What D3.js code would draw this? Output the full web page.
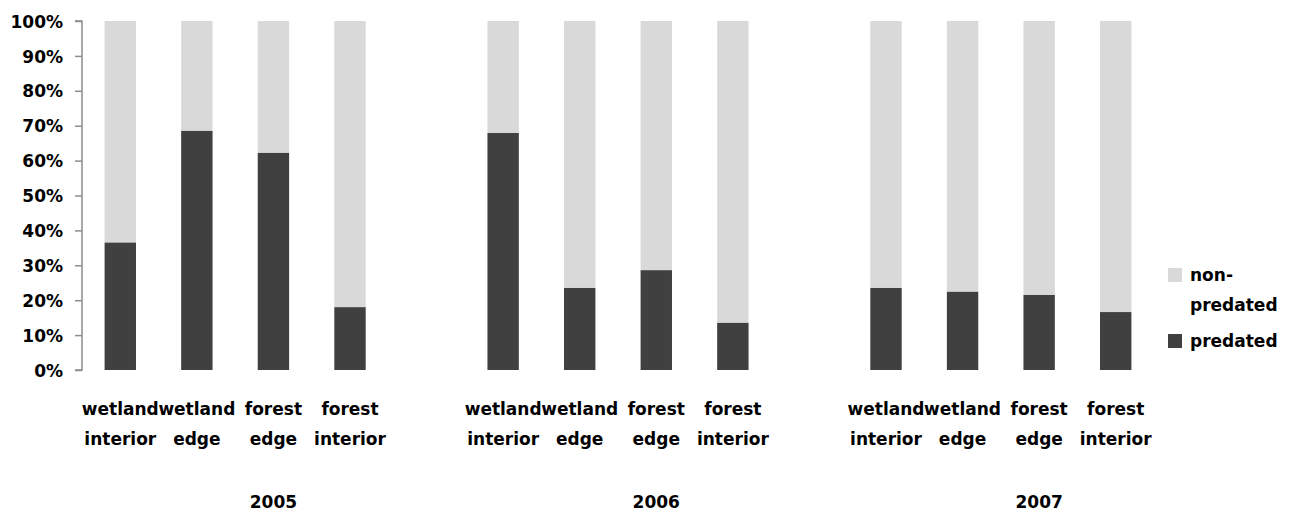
<!DOCTYPE html>
<html><head><meta charset="utf-8">
<script src="https://cdn.jsdelivr.net/npm/d3@7"></script>
<style>body{margin:0;background:#fff}text{font-family:"DejaVu Sans",sans-serif;font-weight:bold;fill:#000}</style>
</head><body>
<svg id="c" width="1295" height="519"></svg>
<script>
const years = ["2005","2006","2007"];
const habitats = [["wetland","interior"],["wetland","edge"],["forest","edge"],["forest","interior"]];
const predated2005 = [36.5, 68.5, 62.2, 18.0];
const predated2006 = [67.9, 23.5, 28.6, 13.5];
const predated2007 = [23.5, 22.4, 21.5, 16.6];
const yTicks = [0,10,20,30,40,50,60,70,80,90,100];
const seriesNames = ["non-predated","predated"];
const colors = {"predated":"#404040","non-predated":"#d9d9d9"};

const predAll = [predated2005, predated2006, predated2007];
// slots: 4 bars per year + blank spacer between years
const slots = [];
years.forEach((yr, gi) => {
  habitats.forEach((h, hi) => slots.push({key: yr+"-"+hi, year: yr, hab: h, pred: predAll[gi][hi]}));
  if (gi < years.length-1) slots.push({key: "gap"+gi, blank: true});
});

const svg = d3.select("#c");
const x = d3.scaleBand().domain(slots.map(d=>d.key)).range([82, 1154]).paddingInner(0.59).paddingOuter(0.295);
const y = d3.scaleLinear().domain([0,100]).range([370, 21]);

const bars = slots.filter(d=>!d.blank);
const g = svg.append("g");
g.selectAll("rect.np").data(bars).join("rect")
  .attr("x", d=>x(d.key)).attr("width", x.bandwidth())
  .attr("y", y(100)).attr("height", d=>y(d.pred)-y(100))
  .attr("fill", colors["non-predated"]);
g.selectAll("rect.p").data(bars).join("rect")
  .attr("x", d=>x(d.key)).attr("width", x.bandwidth())
  .attr("y", d=>y(d.pred)).attr("height", d=>y(0)-y(d.pred))
  .attr("fill", colors["predated"]);

// y axis
const ax = svg.append("g").attr("transform","translate(82,0)")
  .call(d3.axisLeft(y).tickValues(yTicks).tickSize(7).tickPadding(12).tickFormat(d=>d+"%"));
ax.selectAll("path,line").attr("stroke","#8c8c8c").attr("stroke-width",1.5);
ax.select(".domain").attr("d","M-7,"+y(100)+"H0V"+y(0)+"H-7");
ax.selectAll("text").style("font-size","17px").style("font-family","DejaVu Sans").style("font-weight","bold").attr("fill","#000").attr("dy","0.36em");

// category labels
const lab = svg.append("g");
bars.forEach(d => {
  const cx = x(d.key) + x.bandwidth()/2;
  d.hab.forEach((w, i) => {
    lab.append("text").attr("x", cx).attr("y", 415 + i*30).attr("text-anchor","middle").style("font-size","17px").text(w);
  });
});
years.forEach((yr, gi) => {
  const k = yr + "-2";
  lab.append("text").attr("x", x(k)+x.bandwidth()/2).attr("y", 508).attr("text-anchor","middle").style("font-size","17px").text(yr);
});

// legend
const lg = svg.append("g");
lg.append("rect").attr("x",1168).attr("y",268).attr("width",14).attr("height",14).attr("fill",colors["non-predated"]);
lg.append("text").attr("x",1190).attr("y",281).style("font-size","17px").text("non-");
lg.append("text").attr("x",1190).attr("y",311).style("font-size","17px").text("predated");
lg.append("rect").attr("x",1168).attr("y",334).attr("width",14).attr("height",14).attr("fill",colors["predated"]);
lg.append("text").attr("x",1190).attr("y",347).style("font-size","17px").text("predated");
</script>
</body></html>
